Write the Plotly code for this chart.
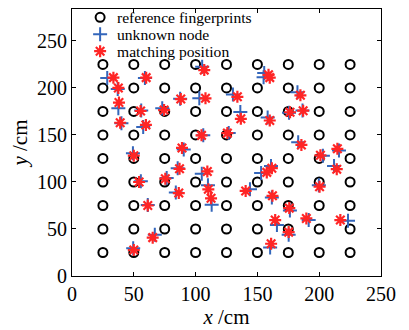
import plotly.graph_objects as go

# ---- data ----
grid_values = [25, 50, 75, 100, 125, 150, 175, 200, 225]

unknown_x = [28.5, 37, 59, 105.3, 155.5, 155, 37.5, 40, 56, 73, 57.6, 87.5, 103, 130.2, 136.2, 158.3,
             175.6, 186.5, 182.4, 126.8, 106.2, 183, 203, 216, 90.4, 49.3, 55.7, 76.6, 85.5, 84,
             61.3, 67, 49.5, 105, 110, 113, 212, 153, 161, 144, 161.7, 199.7, 176.3, 191.5, 223.3,
             165.8, 175.3, 160.3]
unknown_y = [210.5, 199, 210.5, 222.5, 216, 211.5, 178.5, 162.5, 176, 178.5, 158.5, 188.5, 189, 193,
             174.5, 168.6, 173.6, 176, 195.5, 152, 149.6, 142.2, 127.8, 133.6, 134.5, 130.5, 100.8,
             104.3, 114.7, 88.8, 75.5, 44, 29.6, 108.8, 96.4, 75.8, 117, 109.5, 117, 92.2, 83.6,
             96.4, 69.8, 59.5, 58.8, 54.3, 43.9, 30.2]

match_x = [33.5, 37.5, 60, 107, 159, 160, 38, 39, 55.5, 74.5, 59.8, 88, 108, 133.8, 136.6, 160,
           176.4, 187, 184.8, 125.7, 104.8, 185.6, 201, 214.7, 89, 50, 54.3, 75.5, 87, 86.4,
           61.3, 65.3, 50, 109.5, 110.3, 112.5, 214.2, 157.6, 161.7, 140.5, 162.2, 200.3, 175.8,
           189.6, 217.1, 164.4, 175.3, 161.1]
match_y = [211, 200, 211, 219, 214, 211, 184.5, 163, 175.5, 176.5, 160.7, 188.2, 189, 190.6, 167.2,
           165.4, 174.2, 175.8, 192.2, 152, 149.6, 139.4, 128.4, 135.3, 136.2, 128, 100, 103.5,
           114, 88.2, 75, 40.8, 27.6, 111.2, 92.2, 82.6, 113.6, 110.2, 114.7, 90.5, 85.3, 95,
           72.2, 61.2, 59.5, 59.5, 46.7, 34.3]

tick_vals = [0, 50, 100, 150, 200, 250]
legend_names = ["reference fingerprints", "unknown node", "matching position"]

# grid of reference fingerprints
ref_x = [gx for gy in grid_values for gx in grid_values]
ref_y = [gy for gy in grid_values for gx in grid_values]

FONT = "Liberation Serif"
BLUE = "#3366bb"
RED = "#ff2525"

circle_style = dict(symbol="circle-open", size=9, color="black", line=dict(width=2, color="black"))
plus_style = dict(symbol="cross-thin-open", size=10, color=BLUE, line=dict(width=2, color=BLUE))
star_style = dict(symbol="asterisk-open", size=10, color=RED, line=dict(width=2.2, color=RED))

fig = go.Figure()
fig.add_trace(go.Scatter(x=ref_x, y=ref_y, mode="markers", marker=circle_style,
                         name=legend_names[0], showlegend=False))
fig.add_trace(go.Scatter(x=unknown_x, y=unknown_y, mode="markers", marker=plus_style,
                         name=legend_names[1], showlegend=False))
fig.add_trace(go.Scatter(x=match_x, y=match_y, mode="markers", marker=star_style,
                         name=legend_names[2], showlegend=False))

# hand-built legend (keys on an overlay axis in 0..1 units, labels as annotations)
key_x = 0.091
key_rows = [0.969, 0.9055, 0.842]
for style, ky in zip([circle_style, plus_style, star_style], key_rows):
    fig.add_trace(go.Scatter(x=[key_x], y=[ky], mode="markers", marker=style,
                             xaxis="x2", yaxis="y2", showlegend=False, hoverinfo="skip"))
for name, ky in zip(legend_names, key_rows):
    fig.add_annotation(x=0.142, y=ky, xref="paper", yref="paper", text=name, showarrow=False,
                       xanchor="left", yanchor="middle", borderpad=0,
                       font=dict(family=FONT, size=15.6, color="black"))

axis_common = dict(
    showline=True, linecolor="black", linewidth=1, mirror="allticks",
    ticks="inside", ticklen=4, tickcolor="black", tickwidth=1,
    tickvals=tick_vals, showgrid=False, zeroline=False,
    tickfont=dict(family=FONT, size=20, color="black"),
)

fig.update_layout(
    width=409, height=330,
    margin=dict(l=72, r=28, t=8, b=47),
    paper_bgcolor="white", plot_bgcolor="white",
    showlegend=False,
    xaxis=dict(range=[0, 250], title=dict(text="<i>x</i>\u00a0/cm", font=dict(family=FONT, size=21, color="black"), standoff=2),
               **axis_common),
    yaxis=dict(range=[0, 284], title=dict(text="<i>y</i>\u00a0/cm", font=dict(family=FONT, size=21, color="black"), standoff=3),
               **axis_common),
    xaxis2=dict(overlaying="x", range=[0, 1], visible=False),
    yaxis2=dict(overlaying="y", range=[0, 1], visible=False),
)

fig.write_html("out.html", config={"displayModeBar": False},
               post_script="document.body.style.margin='0';")
